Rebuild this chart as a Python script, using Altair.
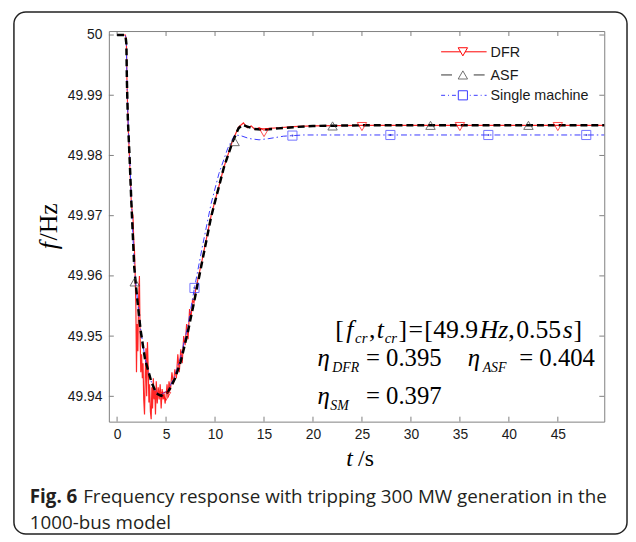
import altair as alt
import pandas as pd

# ---------------- data ----------------
t_dfr = [0, 0.85, 0.95, 1.0, 1.1, 1.28, 1.45, 1.55, 1.62, 1.7, 1.78, 1.85, 1.92, 1.98, 2.05,
         2.12, 2.2, 2.28, 2.35, 2.42, 2.5, 2.58, 2.65, 2.72, 2.8, 2.88, 2.95, 3.02, 3.1, 3.18,
         3.25, 3.32, 3.4, 3.48, 3.55, 3.62, 3.7, 3.78, 3.85, 3.92, 4.0, 4.1, 4.2, 4.3, 4.4,
         4.5, 4.6, 4.7, 4.8, 4.9, 5.0, 5.1, 5.2, 5.3, 5.45, 5.6, 5.75, 5.9, 6.05, 6.2, 6.35,
         6.5, 6.65, 6.8, 6.95, 7.1, 7.25, 7.4, 7.55, 7.7, 7.85, 8.0, 8.3, 8.7, 9.6, 10.9,
         11.8, 12.4, 12.9, 13.3, 13.7, 14.1, 14.5, 15.0, 15.5, 16.5, 18, 20, 25, 49.8]
f_dfr = [50.0, 50.0, 49.9990, 49.9930, 49.9862, 49.9790, 49.9722, 49.9705, 49.9700, 49.9660,
         49.9640, 49.9600, 49.9545, 49.9440, 49.9520, 49.9475, 49.9565, 49.9600, 49.9500,
         49.9440, 49.9470, 49.9430, 49.9455, 49.9395, 49.9370, 49.9440, 49.9480, 49.9400,
         49.9490, 49.9445, 49.9390, 49.9420, 49.9375, 49.9362, 49.9415, 49.9380, 49.9430,
         49.9395, 49.9410, 49.9370, 49.9425, 49.9388, 49.9415, 49.9395, 49.9420, 49.9380,
         49.9412, 49.9395, 49.9405, 49.9388, 49.9400, 49.9420, 49.9398, 49.9425, 49.9410,
         49.9440, 49.9420, 49.9445, 49.9430, 49.9470, 49.9440, 49.9478, 49.9455, 49.9500,
         49.9485, 49.9520, 49.9495, 49.9545, 49.9530, 49.9560, 49.9555, 49.9575, 49.9598,
         49.9628, 49.9700, 49.9780, 49.9825, 49.9847, 49.9854, 49.9846, 49.9849, 49.9843,
         49.9846, 49.9842, 49.9845, 49.9846, 49.9848, 49.9849, 49.9850, 49.9850]

t_asf = [0, 0.85, 0.95, 1.0, 1.1, 1.28, 1.45, 1.6, 1.75, 1.9, 2.1, 2.4, 2.85, 3.5, 4.0, 4.5,
         5.2, 5.9, 6.5, 7.2, 7.9, 8.7, 9.6, 10.9, 11.8, 12.4, 12.8, 13.3, 14.0, 15.0, 16.5,
         18.0, 20.0, 25.0, 49.8]
f_asf = [50.0, 50.0, 49.9985, 49.9925, 49.9860, 49.9795, 49.9725, 49.9670, 49.9615, 49.9588,
         49.9555, 49.9510, 49.9462, 49.9424, 49.9405, 49.9401, 49.9407, 49.9429, 49.9458,
         49.9505, 49.9560, 49.9625, 49.9698, 49.9780, 49.9823, 49.9845, 49.9851, 49.9848,
         49.9844, 49.9843, 49.9845, 49.9847, 49.9849, 49.9850, 49.9850]

t_sm = [0, 0.85, 0.95, 1.0, 1.1, 1.28, 1.45, 1.6, 1.75, 1.9, 2.1, 2.4, 2.85, 3.5, 4.0, 4.5,
        5.2, 5.9, 6.5, 7.2, 7.9, 8.7, 9.6, 10.4, 11.3, 12.0, 12.6, 13.5, 14.5, 15.5, 17.0,
        19.0, 49.8]
f_sm = [50.0, 50.0, 49.9985, 49.9930, 49.9865, 49.9800, 49.9730, 49.9672, 49.9618, 49.9590,
        49.9557, 49.9512, 49.9463, 49.9424, 49.9406, 49.9403, 49.9410, 49.9434, 49.9466,
        49.9515, 49.9580, 49.9648, 49.9720, 49.9770, 49.9812, 49.9834, 49.9833, 49.9828,
        49.9826, 49.9828, 49.9832, 49.9834, 49.9834]

mk_t_dfr = [5, 15, 25, 35, 45]
mk_f_dfr = [49.9400, 49.9838, 49.9848, 49.9848, 49.9848]
mk_t_asf = [1.8, 12, 22, 32, 42]
mk_f_asf = [49.9590, 49.9823, 49.9849, 49.9850, 49.9850]
mk_t_sm = [7.9, 17.9, 27.9, 37.9, 47.9]
mk_f_sm = [49.9580, 49.9833, 49.9834, 49.9834, 49.9834]

x_ticks = [0, 5, 10, 15, 20, 25, 30, 35, 40, 45]
y_ticks = [49.94, 49.95, 49.96, 49.97, 49.98, 49.99, 50.0]
series_names = ["DFR", "ASF", "Single machine"]

# ---------------- layout / style ----------------
W, H = 501, 395
RED, BLACK, BLUE, GRAY = "#ff0000", "#000000", "#3a3aff", "#808080"
xs = alt.Scale(domain=[-0.84, 49.74], nice=False, zero=False)
ys = alt.Scale(domain=[49.9358, 50.00066], nice=False, zero=False)
xaxis = alt.Axis(values=x_ticks, ticks=False, domain=False, grid=False, title=None,
                 labelFont="Liberation Sans", labelFontSize=14, labelColor="#1a1a1a",
                 labelPadding=6)
yaxis = alt.Axis(values=y_ticks, ticks=False, domain=False, grid=False, title=None,
                 labelFont="Liberation Sans", labelFontSize=14, labelColor="#1a1a1a",
                 labelPadding=7,
                 labelExpr="datum.value >= 49.9999 ? '50' : format(datum.value, '.2f')")

X = lambda: alt.X("t:Q", scale=xs, axis=xaxis)
Y = lambda: alt.Y("f:Q", scale=ys, axis=yaxis)


def line(t, f, **kw):
    return alt.Chart(pd.DataFrame({"t": t, "f": f})).mark_line(clip=True, **kw).encode(x=X(), y=Y())


def pts(t, f, **kw):
    return alt.Chart(pd.DataFrame({"t": t, "f": f})).mark_point(clip=True, **kw).encode(x=X(), y=Y())


def txt(s, x, y, size=25, style="normal", weight="normal", font="Liberation Serif",
        angle=0, color="black"):
    return alt.Chart(alt.Data(values=[{}])).mark_text(
        text=s, align="left", baseline="alphabetic", font=font, fontSize=size,
        fontStyle=style, fontWeight=weight, angle=angle, color=color
    ).encode(x=alt.value(x), y=alt.value(y))


layers = []

# frame ticks (inside, MATLAB style)
xt = pd.DataFrame({"t": x_ticks})
yt = pd.DataFrame({"f": y_ticks})
layers.append(alt.Chart(xt).mark_rule(color=GRAY).encode(x=X(), y=alt.value(H), y2=alt.value(H - 5)))
layers.append(alt.Chart(xt).mark_rule(color=GRAY).encode(x=X(), y=alt.value(0), y2=alt.value(5)))
layers.append(alt.Chart(yt).mark_rule(color=GRAY).encode(y=Y(), x=alt.value(0), x2=alt.value(5)))
layers.append(alt.Chart(yt).mark_rule(color=GRAY).encode(y=Y(), x=alt.value(W - 5), x2=alt.value(W)))

# curves
layers.append(line(t_dfr, f_dfr, color=RED, strokeWidth=1.2, opacity=0.85))
layers.append(line(t_sm, f_sm, color=BLUE, strokeWidth=1, strokeDash=[6, 3, 1.5, 3]))
layers.append(line(t_asf, f_asf, color=BLACK, strokeWidth=2.5, strokeDash=[7, 4]))

# markers
layers.append(pts(mk_t_dfr, mk_f_dfr, shape="triangle-down", filled=False, color=RED, size=90, strokeWidth=1))
layers.append(pts(mk_t_asf, mk_f_asf, shape="triangle-up", filled=False, color="#333333", size=90, strokeWidth=1))
layers.append(pts(mk_t_sm, mk_f_sm, shape="square", filled=False, color=BLUE, size=85, strokeWidth=1))
layers.append(pts(mk_t_sm, mk_f_sm, shape="circle", filled=True, color="#0000cc", size=5))

# legend (manual, top right inside the frame)
lx0, lx1, lm, ltx = 336, 382, 358, 386
ly = [21, 44.4, 65]
leg = alt.Chart(alt.Data(values=[{}]))
layers.append(leg.mark_rule(color=RED, strokeWidth=1).encode(x=alt.value(lx0), x2=alt.value(lx1), y=alt.value(ly[0])))
layers.append(leg.mark_point(shape="triangle-down", filled=False, color=RED, size=90, strokeWidth=1, fill="white", fillOpacity=1).encode(x=alt.value(lm), y=alt.value(ly[0])))
layers.append(leg.mark_rule(color="#333333", strokeWidth=1, strokeDash=[11, 22]).encode(x=alt.value(lx0), x2=alt.value(lx1), y=alt.value(ly[1])))
layers.append(leg.mark_point(shape="triangle-up", filled=False, color="#333333", size=90, strokeWidth=1).encode(x=alt.value(lm), y=alt.value(ly[1])))
layers.append(leg.mark_rule(color=BLUE, strokeWidth=1, strokeDash=[4, 3, 1, 3]).encode(x=alt.value(lx0), x2=alt.value(lx1), y=alt.value(ly[2])))
layers.append(leg.mark_point(shape="square", filled=False, color=BLUE, size=85, strokeWidth=1, fill="white", fillOpacity=1).encode(x=alt.value(lm), y=alt.value(ly[2])))
for name, yy in zip(series_names, ly):
    layers.append(txt(name, ltx, yy + 5, size=14.5, font="Liberation Sans", color="#1a1a1a"))

# annotation: [f_cr, t_cr] = [49.9Hz, 0.55s]
b1, s1 = 310, 315
F1, S1 = 26, 15
layers += [
    txt("[", 229, b1, size=F1), txt("f", 240, b1, size=F1, style="italic"),
    txt("cr", 249, s1, size=S1, style="italic"),
    txt(",", 263, b1, size=F1), txt("t", 271, b1, size=F1, style="italic"),
    txt("cr", 279, s1, size=S1, style="italic"),
    txt("]", 293, b1, size=F1), txt("=", 303, b1, size=F1), txt("[", 319, b1, size=F1),
    txt("49.9", 328, b1, size=F1), txt("Hz", 375, b1, size=F1, style="italic"),
    txt(",", 404, b1, size=F1), txt("0.55", 412, b1, size=F1),
    txt("s", 459, b1, size=F1, style="italic"), txt("]", 470, b1, size=F1),
]
# eta lines
b2, s2 = 338.7, 345
b3, s3 = 376.7, 383
layers += [
    txt("η", 211, b2, style="italic"), txt("DFR", 226, s2, size=14, style="italic"), txt("= 0.395", 260, b2),
    txt("η", 363, b2, style="italic"), txt("ASF", 378, s2, size=14, style="italic"), txt("= 0.404", 415, b2),
    txt("η", 211, b3, style="italic"), txt("SM", 224, s3, size=14, style="italic"), txt("= 0.397", 260, b3),
]

# axis titles
layers += [
    txt("t", 240, 440, size=24, style="italic"), txt("/s", 252, 440, size=24),
    txt("f", -52, 220.7, size=26, style="italic", angle=270),
    txt("/Hz", -52, 211.7, size=26, angle=270),
]

# caption
CAP = "#231f20"
layers += [
    txt("Fig. 6", -80, 477.7, size=19, weight="bold", font="Open Sans", color=CAP),
    txt("Frequency response with tripping 300 MW generation in the", -26, 477.7, size=19,
        font="Open Sans", color=CAP),
    txt("1000-bus model", -80, 503.7, size=19, font="Open Sans", color=CAP),
]

# rounded outer frame
layers.append(alt.Chart(alt.Data(values=[{}])).mark_rect(
    fill="transparent", stroke="#222222", strokeWidth=1.5, cornerRadius=12
).encode(x=alt.value(-96), x2=alt.value(524), y=alt.value(-19.3), y2=alt.value(508.7)))

chart = alt.layer(*layers).properties(
    width=W, height=H,
    autosize=alt.AutoSizeParams(type="none"),
    padding={"left": 102, "top": 20.3, "right": 24, "bottom": 117},
    background="white",
).configure_view(stroke=GRAY, strokeWidth=1)

chart.save("out.html", embed_options={"renderer": "svg", "actions": False})
